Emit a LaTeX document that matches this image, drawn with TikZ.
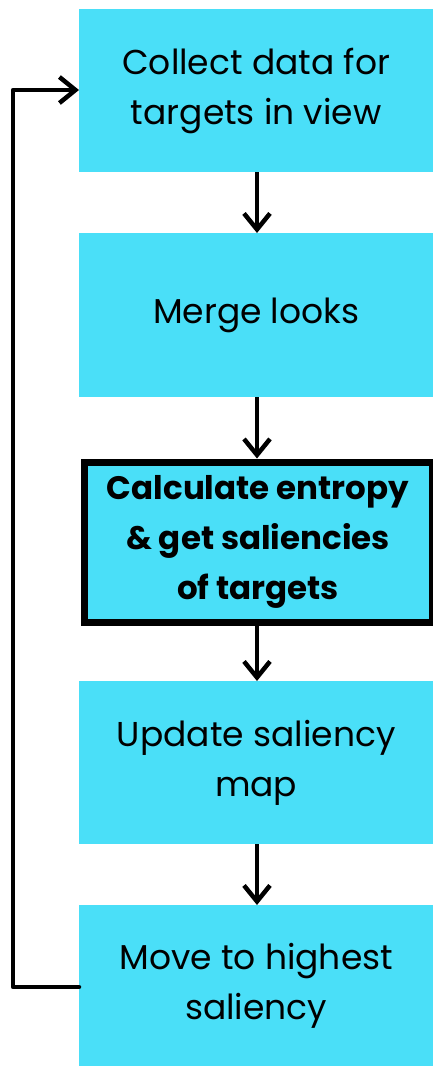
\documentclass[tikz,border=0pt]{standalone}
\usepackage{fontspec}
\setmainfont{Poppins}
\usetikzlibrary{arrows.meta}
\definecolor{boxcyan}{RGB}{74,223,248}
\begin{document}
\begin{tikzpicture}[x=1pt,y=-1pt,
  flowbox/.style={fill=boxcyan, draw=none, minimum width=354pt, anchor=north west, inner sep=0pt, align=center, font=\fontsize{34.5}{50}\selectfont},
  flowarrow/.style={line width=4.5pt, -{Straight Barb[length=16pt,width=26pt,line width=4.5pt]}}
]
\useasboundingbox (0,0) rectangle (433,1066);
\node[flowbox, minimum height=163pt] (b1) at (79,9) {Collect data for\\targets in view};
\node[flowbox, minimum height=164pt] (b2) at (79,233) {Merge looks};
\node[flowbox, draw=black, line width=7pt, minimum width=348pt, minimum height=160pt, font=\fontsize{32.5}{50}\selectfont\bfseries] (b3) at (80.5,458.5) {Calculate entropy\\\& get saliencies\\of targets};
\node[flowbox, minimum height=163pt] (b4) at (79,681) {Update saliency\\map};
\node[flowbox, minimum height=161pt] (b5) at (79,905) {Move to highest\\saliency};
\coordinate (c1) at (13,987);
\coordinate (c2) at (13,90);
\draw[flowarrow] (b1.south -| 257,0) -- (b2.north -| 257,0);
\draw[flowarrow] (b2.south -| 257,0) -- (b3.north -| 257,0);
\draw[flowarrow] (b3.south -| 257,0) -- (b4.north -| 257,0);
\draw[flowarrow] (b4.south -| 257,0) -- (b5.north -| 257,0);
\draw[flowarrow, line cap=round, line join=round] (b5.west |- c1) -- (c1) -- (c2) -- (b1.west |- c2);
\end{tikzpicture}
\end{document}
